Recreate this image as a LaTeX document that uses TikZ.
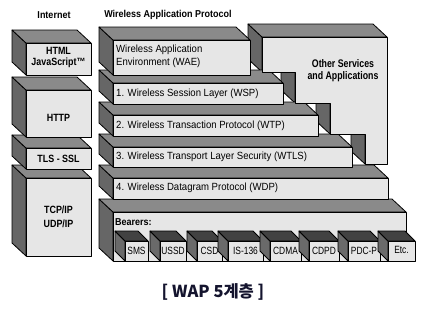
\documentclass[tikz,border=0pt]{standalone}
\usepackage{fontspec}
\setmainfont{Liberation Sans}
\newfontfamily\rgfont[FakeStretch=0.92]{Liberation Sans}
\newfontfamily\sbfont[FakeStretch=0.8]{Liberation Sans}
\newfontfamily\hdfont[FakeStretch=0.9]{Liberation Sans}
\newfontfamily\osfont[FakeStretch=0.8]{Liberation Sans}
\newfontfamily\lcfont[FakeStretch=0.85]{Liberation Sans}
\newfontfamily\krfont{Noto Sans CJK KR}
\definecolor{frontc}{HTML}{E6E6E6}
\definecolor{topc}{HTML}{8A8A8A}
\definecolor{sidec}{HTML}{666666}
\definecolor{stopc}{HTML}{424242}
\definecolor{ssidec}{HTML}{6A6A6A}
\definecolor{capc}{HTML}{14142E}
\tikzset{
  edge/.style={draw=black, line width=0.8pt, line join=round},
  fface/.style={edge, fill=frontc},
  tface/.style={edge, fill=topc},
  sface/.style={edge, fill=sidec},
  stface/.style={edge, fill=stopc},
  ssface/.style={edge, fill=ssidec},
  hd/.style={inner sep=0pt, font=\hdfont\bfseries\fontsize{10}{12}\selectfont},
  lt/.style={inner sep=0pt, anchor=west, font=\rgfont\fontsize{10.4}{12.5}\selectfont},
  lc/.style={inner sep=0pt, align=center, font=\lcfont\bfseries\fontsize{10.5}{11}\selectfont},
  os/.style={inner sep=0pt, align=center, font=\osfont\bfseries\fontsize{11}{12}\selectfont},
  sb/.style={inner sep=0pt, font=\sbfont\fontsize{10.5}{12}\selectfont},
  captxt/.style={inner sep=0pt, text=capc, font=\krfont\bfseries\fontsize{16.5}{19}\selectfont},
}
% x1 y1 x2 y2 : front face; depth (-14,-13)
\newcommand\wapprism[4]{%
  \filldraw[sface] (#1,#2) -- ++(-14,-13) -- ++(0,#4-#2) -- (#1,#4) -- cycle;
  \filldraw[tface] (#1,#2) -- ++(-14,-13) -- ++(#3-#1,0) -- (#3,#2) -- cycle;
  \filldraw[fface] (#1,#2) rectangle (#3,#4);}
% small bearer boxes; depth (-10,-10)
\newcommand\wapsmall[4]{%
  \filldraw[ssface] (#1,#2) -- ++(-10,-10) -- ++(0,#4-#2) -- (#1,#4) -- cycle;
  \filldraw[stface] (#1,#2) -- ++(-10,-10) -- ++(#3-#1,0) -- (#3,#2) -- cycle;
  \filldraw[fface] (#1,#2) rectangle (#3,#4);}
\begin{document}
\begin{tikzpicture}[x=1pt,y=-1pt]
\useasboundingbox (0,0) rectangle (439,308);
% Other services side faces (steps)
\filldraw[sface] (262,37) -- ++(-14,-13) -- ++(0,35) -- (262,72) -- cycle;
\filldraw[sface] (295,72) -- ++(-14,-13) -- ++(0,31) -- (295,103) -- cycle;
\filldraw[sface] (330,103) -- ++(-14,-13) -- ++(0,31) -- (330,134) -- cycle;
\filldraw[sface] (365,134) -- ++(-14,-13) -- ++(0,30) -- (365,164) -- cycle;
% WAP layers, bottom to top
\wapprism{113}{212}{406}{261}
\wapsmall{125}{241}{148}{261}
\wapsmall{160}{241}{186}{261}
\wapsmall{197}{241}{222}{261}
\wapsmall{228}{241}{263}{261}
\wapsmall{270}{241}{301}{261}
\wapsmall{309}{241}{339}{261}
\wapsmall{348}{241}{380}{261}
\wapsmall{388}{241}{415}{261}
\wapprism{113}{178}{388}{199}
\wapprism{113}{147}{352}{167}
\wapprism{113}{115}{318}{136}
\wapprism{113}{83}{283}{104}
\wapprism{113}{40}{250}{75}
% Other services top and front
\filldraw[tface] (262,37) -- (248,24) -- (373,24) -- (387,37) -- cycle;
\filldraw[fface] (262,37) -- (387,37) -- (387,164) -- (365,164) -- (365,134)
  -- (330,134) -- (330,103) -- (295,103) -- (295,72) -- (262,72) -- cycle;
% Internet column, bottom to top
\wapprism{26}{178}{91}{256}
\wapprism{26}{148}{91}{169}
\wapprism{26}{90}{91}{137}
\wapprism{26}{43}{91}{75}
% texts
\node[hd] (hint) at (54,15) {Internet};
\node[hd] (hwap) at (168,15) {Wireless Application Protocol};
\node[lt, align=left] (twae) at (116,56.5) {Wireless Application\\Environment (WAE)};
\node[lt] (twsp) at (116,94) {1. Wireless Session Layer (WSP)};
\node[lt] (twtp) at (116,126) {2. Wireless Transaction Protocol (WTP)};
\node[lt] (twtls) at (116,157) {3. Wireless Transport Layer Security (WTLS)};
\node[lt] (twdp) at (116,188) {4. Wireless Datagram Protocol (WDP)};
\node[hd, anchor=west] (tbear) at (115,222) {Bearers:};
\node[os] (tos) at (343,71) {Other Services\\and Applications};
\node[lc] (thtml) at (58.5,57.5) {HTML\\JavaScript™};
\node[lc] (thttp) at (58.5,118) {HTTP};
\node[lc] (ttls) at (58.5,159) {TLS - SSL};
\node[lc, font=\lcfont\bfseries\fontsize{10.5}{14}\selectfont] (ttcp) at (58.5,217) {TCP/IP\\UDP/IP};
\node[sb] (bsms) at (136.5,251) {SMS};
\node[sb] (bussd) at (173,251) {USSD};
\node[sb] (bcsd) at (209.5,251) {CSD};
\node[sb] (bis) at (245.5,251) {IS-136};
\node[sb] (bcdma) at (285.5,251) {CDMA};
\node[sb] (bcdpd) at (324,251) {CDPD};
\node[sb] (bpdc) at (364,251) {PDC-P};
\node[sb] (betc) at (401.5,250) {Etc.};
\node[captxt] (caption) at (213,292) {[ WAP 5계층 ]};
\end{tikzpicture}
\end{document}
